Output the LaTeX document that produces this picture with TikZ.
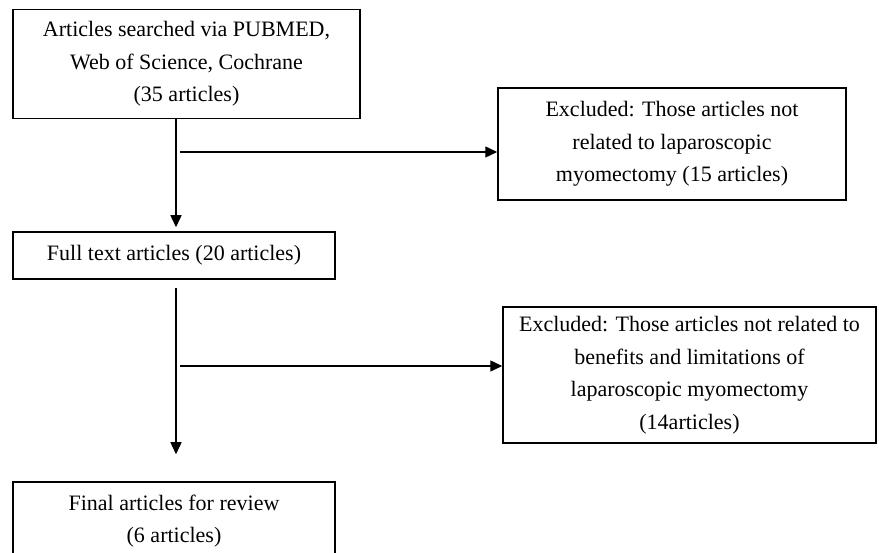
\documentclass[tikz,border=0pt]{standalone}
\usepackage{fontspec}
\setmainfont{Liberation Serif}
\usetikzlibrary{arrows.meta}
\begin{document}
\begin{tikzpicture}[x=1pt,y=-1pt,
  box/.style={draw,line width=1.5pt,align=center,inner sep=0pt,font=\fontsize{22}{32.5}\selectfont},
  arr/.style={line width=1.4pt,-{Triangle[length=12pt,width=11pt]}}]
\useasboundingbox (0,0) rectangle (879,553);
\begin{scope}
\clip (0,0) rectangle (879,553);
\node[box,minimum width=347pt,minimum height=109pt] (b1) at (186.5,64) {Articles searched via PUBMED,\\Web of Science, Cochrane\\(35 articles)};
\node[box,minimum width=322pt,minimum height=47pt] (b2) at (174,255.5) {Full text articles (20 articles)};
\node[box,minimum width=348pt,minimum height=112pt] (e1) at (672,144) {Excluded: Those articles not\\related to laparoscopic\\myomectomy (15 articles)};
\node[box,minimum width=373pt,minimum height=136pt] (e2) at (689.5,375) {Excluded: Those articles not related to\\benefits and limitations of\\laparoscopic myomectomy\\(14articles)};
\node[box,minimum width=322pt,minimum height=78pt] (b3) at (174,521) {Final articles for review\\(6 articles)};
\end{scope}
\coordinate (j1) at (180,152);
\coordinate (j2) at (180,366);
\coordinate (s2) at (176,288);
\draw[arr,shorten >=4pt] (b1.south -| s2) -- (b2.north -| s2);
\draw[arr] (j1) -- (j1 -| e1.west);
\draw[arr,shorten >=27pt] (s2) -- (b3.north -| s2);
\draw[arr] (j2) -- (j2 -| e2.west);
\end{tikzpicture}
\end{document}
